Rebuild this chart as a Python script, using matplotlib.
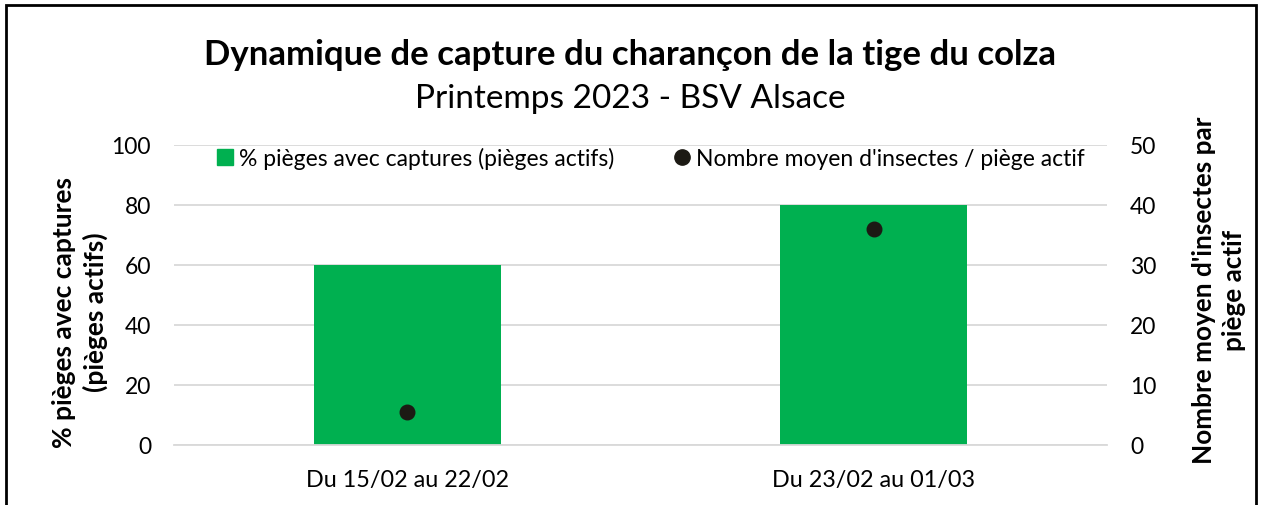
import matplotlib
matplotlib.use("Agg")
import matplotlib.pyplot as plt
from matplotlib.patches import Rectangle
from matplotlib.lines import Line2D

categories = ["Du 15/02 au 22/02", "Du 23/02 au 01/03"]
pct_pieges = [60, 80]
nb_moyen = [5.5, 36]

plt.rcParams['font.family'] = ['Lato', 'DejaVu Sans']

W, H = 1261, 506
fig = plt.figure(figsize=(W/100, H/100), dpi=100)

def fx(px): return px / W
def fy(py): return 1 - py / H

ax = fig.add_axes([fx(174), fy(446), fx(1107) - fx(174), fy(146) - fy(446)])
ax2 = ax.twinx()

green = "#00B050"
x = list(range(len(categories)))
ax.bar(x, pct_pieges, width=0.4, color=green, zorder=2)
ax.set_xlim(-0.5, 1.5)
ax.set_ylim(0, 100)
ax.set_yticks(range(0, 101, 20))
ax.grid(axis='y', color='#D9D9D9', linewidth=1.3, zorder=0)
ax.set_axisbelow(True)
ax.set_xticks(x)
ax.set_xticklabels(categories, fontsize=16.8, color='#000000')
ax.tick_params(axis='x', length=0, pad=17)
ax.tick_params(axis='y', length=0, labelsize=16.5, pad=16.5)
for s in ax.spines.values():
    s.set_visible(False)
ax.spines['bottom'].set_visible(True)
ax.spines['bottom'].set_color('#D9D9D9')
ax.spines['bottom'].set_linewidth(1.3)

ax2.scatter(x, nb_moyen, s=110, color='#1C1A14', zorder=3)
ax2.set_ylim(0, 50)
ax2.set_yticks(range(0, 51, 10))
ax2.tick_params(axis='y', length=0, labelsize=16.5, pad=16.5)
for s in ax2.spines.values():
    s.set_visible(False)

fig.text(fx(80), fy(312), "% pièges avec captures\n(pièges actifs)", fontsize=19,
         fontweight='bold', rotation=90, ha='center', va='center',
         multialignment='center', linespacing=1.3)
fig.text(fx(1219), fy(290), "Nombre moyen d'insectes par\npiège actif", fontsize=18.8,
         fontweight='bold', rotation=90, ha='center', va='center',
         multialignment='center', linespacing=1.3)

fig.text(0.5, fy(55), "Dynamique de capture du charançon de la tige du colza",
         ha='center', va='center', fontsize=25, fontweight='bold')
fig.text(0.5, fy(99), "Printemps 2023 - BSV Alsace",
         ha='center', va='center', fontsize=24)

handles = [
    Line2D([], [], marker='s', linestyle='none', color=green, markersize=11),
    Line2D([], [], marker='o', linestyle='none', color='#1C1A14', markersize=11),
]
labels = ["% pièges avec captures (pièges actifs)", "Nombre moyen d'insectes / piège actif"]
fig.legend(handles, labels, loc='center', bbox_to_anchor=(fx(651), fy(159)), ncol=2,
           frameon=False, fontsize=16.5, handlelength=0.7, handletextpad=0.25,
           columnspacing=2.6)

fig.patches.append(Rectangle((fx(6), -0.1), fx(1256) - fx(6), fy(6) + 0.1,
                             transform=fig.transFigure, fill=False,
                             edgecolor='black', linewidth=2))

fig.savefig("out.png", dpi=100, facecolor='white')
